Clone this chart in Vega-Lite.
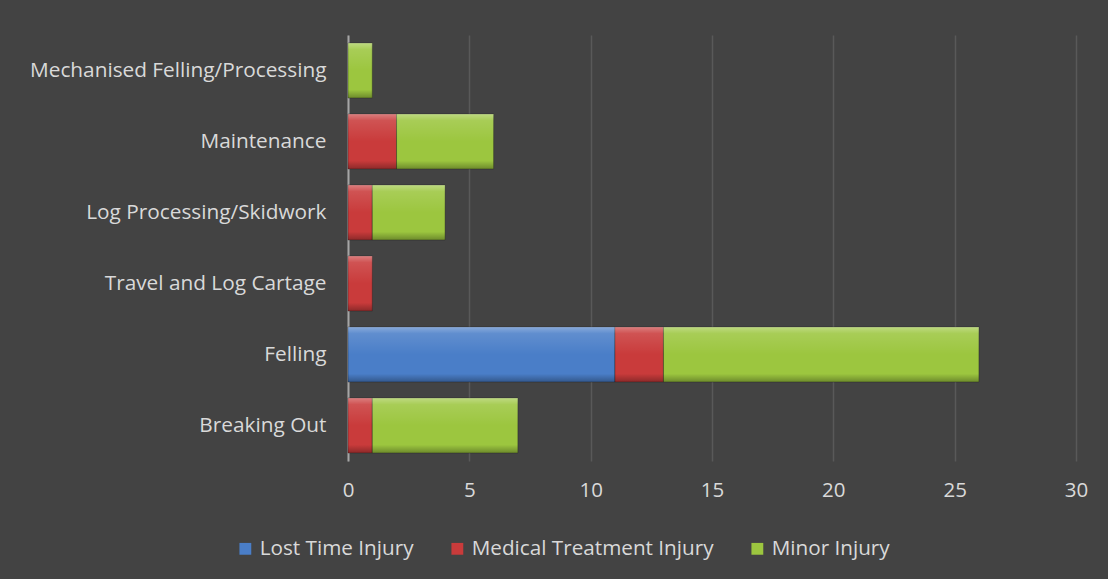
{
  "$schema": "https://vega.github.io/schema/vega-lite/v6.json",
  "width": 728,
  "height": 426,
  "autosize": {"type": "none"},
  "padding": {"left": 348, "top": 35, "right": 32, "bottom": 118},
  "background": "#434343",
  "config": {
    "view": {"stroke": null},
    "font": "Open Sans"
  },
  "data": {
    "values": [
      {"activity": "Mechanised Felling/Processing", "type": "Minor Injury", "count": 1},
      {"activity": "Maintenance", "type": "Medical Treatment Injury", "count": 2},
      {"activity": "Maintenance", "type": "Minor Injury", "count": 4},
      {"activity": "Log Processing/Skidwork", "type": "Medical Treatment Injury", "count": 1},
      {"activity": "Log Processing/Skidwork", "type": "Minor Injury", "count": 3},
      {"activity": "Travel and Log Cartage", "type": "Medical Treatment Injury", "count": 1},
      {"activity": "Felling", "type": "Lost Time Injury", "count": 11},
      {"activity": "Felling", "type": "Medical Treatment Injury", "count": 2},
      {"activity": "Felling", "type": "Minor Injury", "count": 13},
      {"activity": "Breaking Out", "type": "Medical Treatment Injury", "count": 1},
      {"activity": "Breaking Out", "type": "Minor Injury", "count": 6}
    ]
  },
  "transform": [
    {"stack": "count", "groupby": ["activity"], "sort": [{"field": "type", "order": "ascending"}], "as": ["x0", "x1"]}
  ],
  "encoding": {
    "y": {
      "field": "activity",
      "type": "nominal",
      "sort": ["Mechanised Felling/Processing", "Maintenance", "Log Processing/Skidwork", "Travel and Log Cartage", "Felling", "Breaking Out"],
      "scale": {"paddingInner": 0.225, "paddingOuter": 0.1125},
      "axis": {
        "title": null,
        "ticks": false,
        "domain": true,
        "domainColor": "#a6a6a6",
        "domainWidth": 2,
        "labelColor": "#d9d9d9",
        "labelFontSize": 20.8,
        "labelLimit": 0,
        "labelPadding": 22,
        "grid": false
      }
    },
    "x": {
      "field": "x0",
      "type": "quantitative",
      "scale": {"domain": [0, 30], "nice": false},
      "axis": {
        "title": null,
        "values": [0, 5, 10, 15, 20, 25, 30],
        "domain": false,
        "ticks": false,
        "grid": true,
        "gridColor": "#ffffff",
        "gridOpacity": 0.12,
        "gridWidth": 1.5,
        "labelColor": "#d9d9d9",
        "labelFontSize": 20.5,
        "labelFlush": false,
        "labelPadding": 19
      }
    },
    "x2": {"field": "x1"}
  },
  "layer": [
    {
      "mark": {"type": "bar", "stroke": "#1e1e1e", "strokeWidth": 0.6, "strokeOpacity": 0.6},
      "encoding": {
        "color": {
          "field": "type",
          "type": "nominal",
          "scale": {
            "domain": ["Lost Time Injury", "Medical Treatment Injury", "Minor Injury"],
            "range": ["#4a7ec8", "#c93b3b", "#9cc63f"]
          },
          "legend": {
            "title": null,
            "orient": "none",
            "direction": "horizontal",
            "legendX": -113,
            "legendY": 503,
            "symbolType": "square",
            "symbolSize": 140,
            "symbolStrokeWidth": 0,
            "labelColor": "#d9d9d9",
            "labelFontSize": 20.7,
            "labelLimit": 0,
            "labelOffset": 4,
            "columnPadding": 33
          }
        }
      }
    },
    {
      "mark": {
        "type": "bar",
        "fill": {
          "gradient": "linear",
          "x1": 0, "y1": 0, "x2": 0, "y2": 1,
          "stops": [
            {"offset": 0, "color": "rgba(255,255,255,0.35)"},
            {"offset": 0.12, "color": "rgba(255,255,255,0.12)"},
            {"offset": 0.5, "color": "rgba(255,255,255,0)"},
            {"offset": 0.85, "color": "rgba(0,0,0,0)"},
            {"offset": 1, "color": "rgba(0,0,0,0.3)"}
          ]
        }
      },
      "encoding": {"detail": {"field": "type"}}
    }
  ]
}
